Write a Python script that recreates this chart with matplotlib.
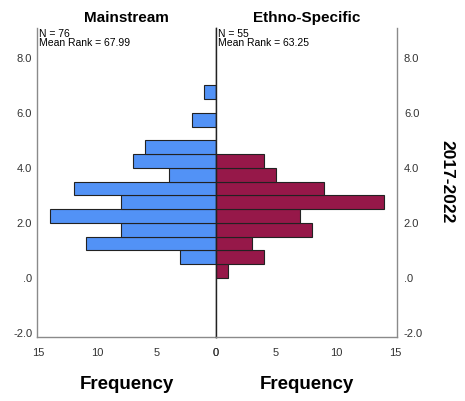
import numpy as np
import matplotlib
matplotlib.use("Agg")
import matplotlib.pyplot as plt

plt.rcParams['font.family'] = ['Liberation Sans', 'DejaVu Sans']

# bin lower edges (width 0.5) and counts
bin_width = 0.5
main_bins = [0.5, 1.0, 1.5, 2.0, 2.5, 3.0, 3.5, 4.0, 4.5, 5.5, 6.5]
main_counts = [3, 11, 8, 14, 8, 12, 4, 7, 6, 2, 1]
ethno_bins = [0.0, 0.5, 1.0, 1.5, 2.0, 2.5, 3.0, 3.5, 4.0]
ethno_counts = [1, 4, 3, 8, 7, 14, 9, 5, 4]

groups = ["Mainstream", "Ethno-Specific"]
notes = ["N = 76\nMean Rank = 67.99", "N = 55\nMean Rank = 63.25"]
yticks = [-2.0, 0.0, 2.0, 4.0, 6.0, 8.0]
ytick_labels = ["-2.0", ".0", "2.0", "4.0", "6.0", "8.0"]
xticks = [0, 5, 10, 15]

blue = '#5292f6'
red = '#961849'
spine_gray = '#8a8a8a'
text_gray = '#333333'

fig = plt.figure(figsize=(4.65, 4.01), dpi=100)
ax_l = fig.add_axes([0.0796, 0.1596, 0.3849, 0.7706])
ax_r = fig.add_axes([0.4645, 0.1596, 0.3892, 0.7706])

ax_l.barh(main_bins, main_counts, height=bin_width, align='edge',
          color=blue, edgecolor='#222222', linewidth=0.8)
ax_r.barh(ethno_bins, ethno_counts, height=bin_width, align='edge',
          color=red, edgecolor='#222222', linewidth=0.8)

ax_l.set_xlim(15.1, 0)
ax_r.set_xlim(0, 15.1)

for ax, title, note in zip([ax_l, ax_r], groups, notes):
    ax.set_ylim(-2.15, 9.09)
    ax.set_yticks(yticks)
    ax.set_xticks(xticks)
    ax.spines['top'].set_visible(False)
    for s in ['left', 'right', 'bottom']:
        ax.spines[s].set_color(spine_gray)
        ax.spines[s].set_linewidth(1.0)
    ax.tick_params(length=0, labelsize=8, labelcolor=text_gray)
    ax.tick_params(axis='x', pad=8)
    ax.set_title(title, fontsize=11, fontweight='bold', pad=4)
    ax.set_xlabel("Frequency", fontsize=13.5, fontweight='bold', labelpad=13)
    ax.text(0.012, 0.998, note, transform=ax.transAxes, fontsize=7.5,
            va='top', ha='left', linespacing=0.95)

ax_l.set_yticklabels(ytick_labels)
ax_l.spines['right'].set_color('#222222')
ax_r.spines['left'].set_color('#222222')
ax_r.yaxis.tick_right()
ax_r.set_yticklabels(ytick_labels)
ax_r.tick_params(axis='y', pad=5)

fig.text(0.962, 0.548, "2017-2022", rotation=-90, fontsize=12.5,
         fontweight='bold', ha='center', va='center')

fig.savefig("out.png", dpi=100)
